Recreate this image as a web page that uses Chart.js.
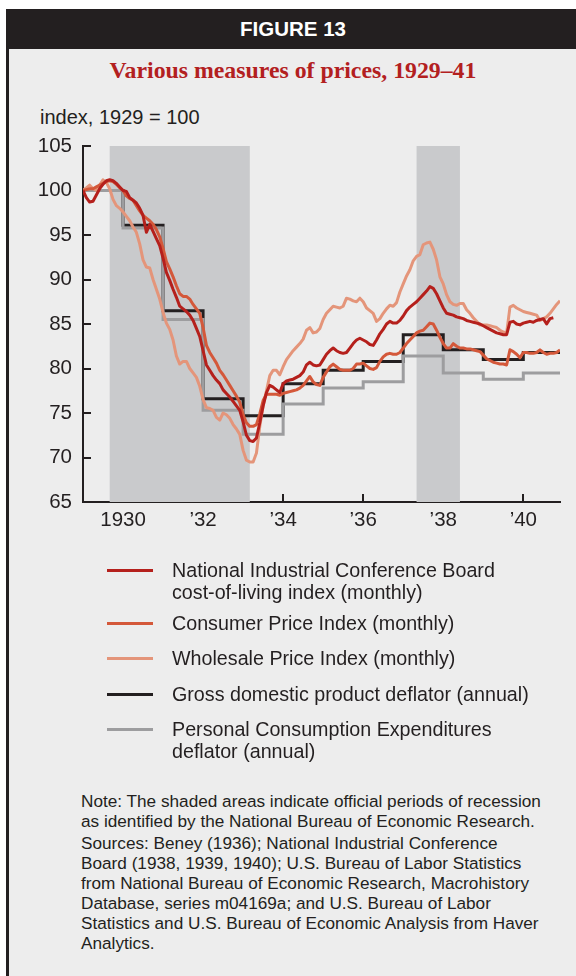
<!DOCTYPE html>
<html><head><meta charset="utf-8">
<script src="https://cdn.jsdelivr.net/npm/chart.js@4.4.1/dist/chart.umd.min.js"></script>
<style>
html,body{margin:0;padding:0;background:#fff;}
body{width:576px;height:976px;position:relative;overflow:hidden;font-family:"Liberation Sans",Arial,sans-serif;color:#231f20;}
#panel{position:absolute;left:6px;top:9px;width:570px;height:967px;background:#ededed;border-left:3px solid #231f20;box-sizing:border-box;}
#header{position:absolute;left:6px;top:9px;width:574px;height:40px;background:#231f20;color:#fff;font-weight:bold;font-size:20.5px;line-height:40px;text-align:center;}
#title{position:absolute;left:6px;width:574px;top:55px;text-align:center;font-family:"Liberation Serif","Times New Roman",serif;font-weight:bold;font-size:23.8px;color:#b3201f;line-height:30px;white-space:nowrap;}
#ylabel{position:absolute;left:40px;top:105px;font-size:20px;line-height:24px;white-space:nowrap;}
canvas{position:absolute;left:0;top:0;}
.sw{position:absolute;left:107px;width:46px;height:3px;}
.lt{position:absolute;left:172px;font-size:19.7px;line-height:22px;white-space:nowrap;}
.nt{position:absolute;left:81px;font-size:17.2px;line-height:20px;white-space:nowrap;}
</style></head>
<body>
<div id="panel"></div>
<div id="header">FIGURE 13</div>
<div id="title">Various measures of prices, 1929–41</div>
<div id="ylabel">index, 1929 = 100</div>
<canvas id="c" width="576" height="560"></canvas>

<div class="sw" style="top:568.5px;background:#b5201c"></div>
<div class="lt" style="top:559px">National Industrial Conference Board<br>cost-of-living index (monthly)</div>
<div class="sw" style="top:621.8px;background:#d4583a"></div>
<div class="lt" style="top:612px">Consumer Price Index (monthly)</div>
<div class="sw" style="top:657px;background:#e4957a"></div>
<div class="lt" style="top:647px">Wholesale Price Index (monthly)</div>
<div class="sw" style="top:692.5px;background:#231f20"></div>
<div class="lt" style="top:683px">Gross domestic product deflator (annual)</div>
<div class="sw" style="top:727.5px;background:#9d9d9f"></div>
<div class="lt" style="top:718px">Personal Consumption Expenditures<br>deflator (annual)</div>

<div class="nt" style="top:790.7px">Note: The shaded areas indicate official periods of recession<br>as identified by the National Bureau of Economic Research.</div>
<div class="nt" style="top:833.3px">Sources: Beney (1936); National Industrial Conference<br>Board (1938, 1939, 1940); U.S. Bureau of Labor Statistics<br>from National Bureau of Economic Research, Macrohistory<br>Database, series m04169a; and U.S. Bureau of Labor<br>Statistics and U.S. Bureau of Economic Analysis from Haver<br>Analytics.</div>

<script>
// ---- data ----
const startYear = 1929;           // monthly series start, January 1929
const endX = 1940 + 11 / 12;      // December 1940
const xTickValues = [1930, 1932, 1934, 1936, 1938, 1940];
const xTickLabels = ["1930", "\u201932", "\u201934", "\u201936", "\u201938", "\u201940"];
const yTickStep = 5;

const recessions = [[1929 + 8 / 12, 1933 + 2 / 12], [1937 + 4 / 12, 1938 + 5 / 12]];

const nicb = [
  100.0, 99.2, 98.7, 98.8, 99.5, 100.2, 100.7, 101.1, 101.2, 101.1, 100.8, 100.4,
  100.0, 99.9, 99.2, 98.9, 98.6, 98.0, 97.2, 95.3, 96.2, 95.4, 94.6, 93.8,
  92.4, 90.8, 89.9, 88.9, 88.0, 87.0, 86.7, 86.4, 86.0, 85.4, 84.5, 83.6,
  82.0, 80.4, 79.8, 79.2, 78.7, 78.3, 77.6, 77.2, 76.8, 76.3, 75.8, 75.3,
  74.0, 72.5, 71.9, 71.8, 72.2, 73.9, 75.8, 77.3, 78.1, 77.9, 77.6, 77.3,
  78.3, 78.6, 78.7, 78.8, 79.0, 79.2, 79.6, 80.4, 80.7, 80.4, 80.3, 80.4,
  81.0, 81.6, 82.0, 82.3, 82.0, 81.8, 81.7, 81.8, 82.3, 82.8, 83.2, 83.4,
  83.2, 83.0, 82.7, 82.6, 83.2, 83.9, 84.4, 85.0, 85.3, 85.1, 85.1, 85.4,
  85.9, 86.5, 86.9, 87.2, 87.5, 87.9, 88.3, 88.7, 89.2, 89.0, 88.4, 87.6,
  86.8, 86.2, 86.1, 86.0, 85.8, 85.7, 85.6, 85.4, 85.3, 85.2, 85.1, 85.0,
  84.8, 84.6, 84.4, 84.2, 84.0, 83.9, 83.8, 83.8, 85.2, 85.3, 85.0, 84.9,
  85.1, 85.2, 85.3, 85.2, 85.4, 85.5, 85.6, 85.0, 85.6, 85.7, null, null
];
const cpi = [
  100.0, 100.1, 100.2, 100.2, 100.4, 100.6, 100.8, 101.0, 101.1, 101.0, 100.7, 100.3,
  100.0, 99.4, 99.1, 98.9, 98.3, 97.7, 97.2, 96.9, 96.6, 96.2, 95.6, 94.8,
  93.5, 92.0, 91.2, 90.3, 89.3, 88.4, 88.1, 88.1, 87.8, 87.2, 86.7, 86.2,
  84.6, 82.6, 81.8, 81.2, 80.6, 79.8, 79.3, 78.7, 78.1, 77.5, 76.9, 76.2,
  74.8, 73.9, 73.5, 73.5, 73.7, 74.9, 76.4, 77.1, 77.1, 77.1, 77.1, 77.0,
  77.2, 77.3, 77.4, 77.5, 77.6, 77.8, 78.1, 78.6, 79.1, 78.5, 78.2, 78.1,
  79.0, 79.6, 80.2, 80.5, 80.2, 79.9, 79.8, 79.8, 79.8, 80.0, 80.5, 80.5,
  80.6, 80.3, 80.0, 79.9, 80.1, 80.8, 81.3, 81.6, 81.7, 81.6, 81.6, 81.8,
  82.3, 82.8, 83.2, 83.6, 84.0, 84.2, 84.3, 84.7, 85.1, 85.0, 84.3, 83.5,
  82.8, 82.3, 82.3, 82.8, 82.5, 82.3, 82.3, 82.2, 82.2, 82.1, 82.0, 81.9,
  81.5, 81.1, 80.9, 80.7, 80.6, 80.5, 80.5, 80.4, 82.1, 81.9, 81.6, 81.2,
  81.8, 81.8, 81.7, 81.7, 81.8, 82.1, 81.8, 81.6, 81.7, 81.7, 81.8, 82.1
];
const wpi = [
  100.0, 100.3, 100.6, 100.2, 100.0, 100.6, 101.2, 100.9, 100.2, 99.0, 98.3, 98.0,
  97.6, 97.1, 96.6, 95.9, 95.3, 94.0, 92.2, 91.4, 91.3, 90.0, 88.9, 87.8,
  86.3, 85.1, 84.4, 83.2, 81.4, 80.5, 80.8, 80.8, 80.0, 79.5, 79.0, 78.0,
  76.5, 75.6, 75.5, 75.3, 74.5, 74.2, 75.0, 74.8, 74.4, 73.7, 73.2, 72.6,
  70.8, 69.7, 69.5, 69.5, 70.5, 73.5, 75.8, 77.5, 79.2, 79.8, 79.8, 79.3,
  80.2, 81.0, 81.5, 82.0, 82.4, 82.8, 83.3, 84.3, 84.6, 84.0, 84.1, 84.5,
  85.5, 86.2, 86.6, 87.0, 86.9, 86.8, 87.0, 87.9, 87.8, 87.6, 87.5, 87.9,
  87.5, 86.8, 86.5, 86.2, 85.3, 85.6, 86.2, 86.7, 87.1, 87.0, 87.4, 88.6,
  89.5, 90.4, 91.1, 92.1, 92.6, 92.8, 93.9, 94.1, 94.2, 93.4, 92.2, 90.3,
  89.5, 88.3, 87.5, 87.2, 87.1, 87.3, 87.3, 86.6, 86.2, 85.7, 85.3, 84.9,
  84.9, 84.9, 84.8, 84.7, 84.6, 84.3, 84.1, 84.0, 86.9, 87.1, 86.8, 86.6,
  86.4, 86.3, 86.2, 86.1, 86.0, 85.4, 85.6, 85.8, 86.2, 86.7, 87.2, 87.6
];

const years = [1929, 1930, 1931, 1932, 1933, 1934, 1935, 1936, 1937, 1938, 1939, 1940];
const gdpDeflator = [100.0, 96.1, 86.5, 76.6, 74.7, 78.3, 79.8, 80.8, 83.8, 82.1, 81.0, 81.8];
const pceDeflator = [100.0, 95.8, 85.5, 75.3, 72.6, 76.0, 77.8, 78.5, 81.4, 79.5, 78.8, 79.5];

// ---- helpers ----
const monthly = arr => arr.map((v, i) => ({ x: startYear + i / 12, y: v }));
const annual = arr => years.map((yr, i) => ({ x: yr, y: arr[i] })).concat([{ x: endX, y: arr[arr.length - 1] }]);

const INK = '#231f20';
const FONT = '"Liberation Sans", Arial, sans-serif';

const shadePlugin = {
  id: 'shade',
  beforeDatasetsDraw(chart) {
    const { ctx, chartArea: a, scales: { x } } = chart;
    ctx.save();
    ctx.fillStyle = '#c9cacc';
    recessions.forEach(([s, e]) => {
      const x1 = x.getPixelForValue(s), x2 = x.getPixelForValue(e);
      ctx.fillRect(x1, a.top, x2 - x1, a.bottom - a.top);
    });
    ctx.restore();
  }
};

const lineDs = (label, data, color) => ({
  label, data, borderColor: color, borderWidth: 3, pointRadius: 0,
  tension: 0, borderJoinStyle: 'round', fill: false, spanGaps: false
});
const stepDs = (label, data, color) => ({
  label, data, borderColor: color, borderWidth: 3, pointRadius: 0,
  stepped: true, borderJoinStyle: 'miter', fill: false
});

new Chart(document.getElementById('c'), {
  type: 'line',
  data: {
    datasets: [
      lineDs('National Industrial Conference Board cost-of-living index (monthly)', monthly(nicb), '#b5201c'),
      lineDs('Consumer Price Index (monthly)', monthly(cpi), '#d4583a'),
      lineDs('Wholesale Price Index (monthly)', monthly(wpi), '#e4957a'),
      stepDs('Personal Consumption Expenditures deflator (annual)', annual(pceDeflator), '#9d9d9f'),
      stepDs('Gross domestic product deflator (annual)', annual(gdpDeflator), INK)
    ]
  },
  options: {
    responsive: false,
    animation: false,
    devicePixelRatio: 1,
    events: [],
    layout: { padding: { top: 146, left: 0, right: 16, bottom: 28 } },
    plugins: { legend: { display: false }, tooltip: { enabled: false } },
    scales: {
      x: {
        type: 'linear', min: startYear, max: endX, z: 1,
        afterBuildTicks: s => { s.ticks = xTickValues.map(v => ({ value: v })); },
        afterFit: s => { s.height = 30; },
        ticks: {
          callback: (v, i) => xTickLabels[i],
          font: { family: FONT, size: 20.5 }, color: INK, padding: 14,
          maxRotation: 0, autoSkip: false
        },
        grid: { display: true, drawOnChartArea: false, drawTicks: true, tickLength: -8, color: INK, lineWidth: 2 },
        border: { display: true, color: INK, width: 2 }
      },
      y: {
        min: 65, max: 105, z: 1,
        afterFit: s => { s.width = 83; },
        ticks: { stepSize: yTickStep, font: { family: FONT, size: 20.5 }, color: INK, padding: 19 },
        grid: { display: true, drawOnChartArea: false, drawTicks: true, tickLength: -8, color: INK, lineWidth: 2 },
        border: { display: true, color: INK, width: 2 }
      }
    }
  },
  plugins: [shadePlugin]
});
</script>
</body></html>
